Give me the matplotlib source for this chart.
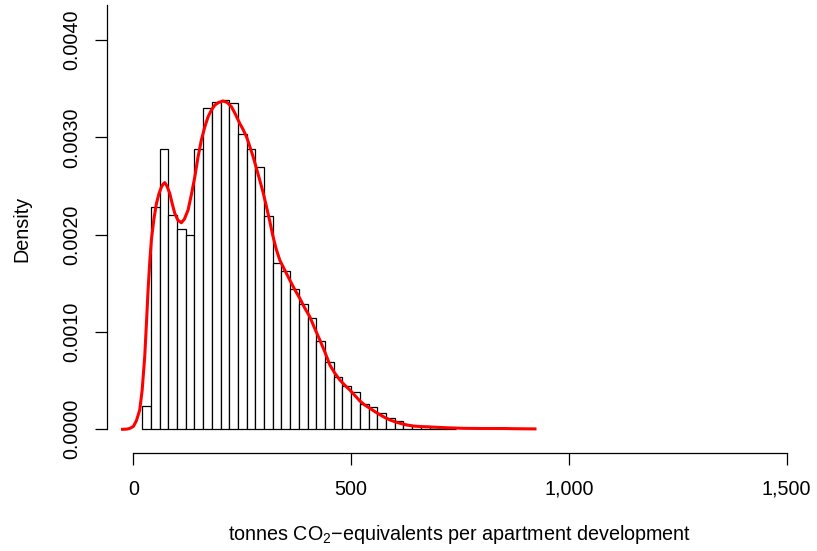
import matplotlib
matplotlib.use("Agg")
import matplotlib.pyplot as plt
import numpy as np

plt.rcParams['font.family'] = ['Liberation Sans', 'DejaVu Sans']
plt.rcParams['mathtext.fontset'] = 'custom'
plt.rcParams['mathtext.rm'] = 'Liberation Sans'
plt.rcParams['mathtext.it'] = 'Liberation Sans:italic'
plt.rcParams['mathtext.bf'] = 'Liberation Sans:bold'

# Histogram (density scale), bins of width 20 starting at 20
bin_edges = list(range(20, 741, 20))
bar_density = [0.000243, 0.002288, 0.002884, 0.002206, 0.002059, 0.001997,
               0.002878, 0.003299, 0.003367, 0.003384, 0.003354, 0.003032,
               0.002878, 0.002696, 0.002189, 0.001709, 0.001627, 0.001445,
               0.001288, 0.001141, 0.000907, 0.000695, 0.000541, 0.000445,
               0.000380, 0.000260, 0.000226, 0.000171, 0.000119, 0.000085,
               0.000044, 0.000038, 0.000030, 0.000020, 0.000012, 0.000008]

# Kernel density curve
kde_x = [-25, -15, -8, 0, 7, 14.5, 20, 26, 30, 33.6, 37.5, 41.3, 47, 52.8,
         58.5, 64.3, 68, 72, 77, 83.4, 89, 94.9, 102, 110, 117, 125.5, 133,
         141, 148, 156, 164, 171.5, 179, 187, 196, 205.8, 215, 225, 234, 244,
         252, 259.6, 267, 274.8, 282, 290, 298, 305.5, 313, 320.7, 328, 336,
         347, 359, 370, 382, 393, 405, 416, 428, 440, 451, 462, 474, 486, 497,
         508, 520, 531, 543, 555, 566, 578, 589, 604, 619, 630, 642, 660, 681,
         700, 719, 738, 757, 780, 800, 825, 850, 875, 900, 922]
kde_y = [0.0, 0.000002, 0.000010, 0.00003, 0.00009, 0.00020, 0.00040, 0.00075,
         0.00110, 0.00143, 0.00172, 0.00195, 0.00216, 0.00232, 0.00242, 0.00249,
         0.00252, 0.002535, 0.00250, 0.002425, 0.00232, 0.00222, 0.00215,
         0.002123, 0.00216, 0.002254, 0.00241, 0.002596, 0.00279, 0.002973,
         0.00311, 0.003213, 0.00328, 0.003333, 0.00336, 0.003374, 0.00336,
         0.003316, 0.00324, 0.003145, 0.00308, 0.003007, 0.00291, 0.002802,
         0.00269, 0.002562, 0.00243, 0.002288, 0.00214, 0.001979, 0.00185,
         0.00174, 0.00164, 0.001534, 0.00144, 0.001346, 0.00125, 0.001157,
         0.00104, 0.000918, 0.00079, 0.000661, 0.00058, 0.000507, 0.00045,
         0.000404, 0.00035, 0.000291, 0.00025, 0.000216, 0.00018, 0.000150,
         0.00012, 0.000096, 0.000072, 0.000054, 0.000043, 0.000034, 0.000028,
         0.000024, 0.000020, 0.000016, 0.000013, 0.000010, 0.000009, 0.000008,
         0.000008, 0.000008, 0.000006, 0.000005, 0.000004]

x_ticks = [0, 500, 1000, 1500]
x_ticklabels = ['0', '500', '1,000', '1,500']
y_ticks = [0.0, 0.001, 0.002, 0.003, 0.004]
y_ticklabels = ['0.0000', '0.0010', '0.0020', '0.0030', '0.0040']

W, H = 817, 551
fig = plt.figure(figsize=(W / 100, H / 100), dpi=100)
left, right, top, bottom = 107.3, 812.8, 4.7, 452.7
ax = fig.add_axes([left / W, 1 - bottom / H, (right - left) / W, (bottom - top) / H])

widths = np.diff(bin_edges)
ax.bar(bin_edges[:-1], bar_density, width=widths, align='edge',
       facecolor='white', edgecolor='black', linewidth=0.9)
ax.plot(kde_x, kde_y, color='#ff0000', linewidth=2.2, solid_joinstyle='round')

ax.set_xlim(-60, 1560)
ax.set_ylim(-0.0002405, 0.004364)

for s in ['top', 'right']:
    ax.spines[s].set_visible(False)
ax.spines['bottom'].set_bounds(0, 1500)
ax.spines['left'].set_bounds(0, 0.004364)
for s in ['bottom', 'left']:
    ax.spines[s].set_linewidth(0.9)

fs = 14.2
ax.set_xticks(x_ticks)
ax.set_xticklabels(x_ticklabels, fontsize=fs)
ax.set_yticks(y_ticks)
ax.set_yticklabels(y_ticklabels, fontsize=fs, rotation=90, va='center')
ax.tick_params(axis='both', length=8.6, width=0.9, direction='out')
ax.tick_params(axis='x', pad=11)
ax.tick_params(axis='y', pad=10)

ax.set_xlabel('tonnes CO$_2$\u2212equivalents per apartment development', fontsize=fs, va='center')
ax.set_ylabel('Density', fontsize=fs, va='center')
ax.xaxis.set_label_coords(0.5, (bottom - 535) / (bottom - top))
ax.yaxis.set_label_coords((21.7 - left) / (right - left), 0.5)

fig.savefig('out.png', dpi=100)
